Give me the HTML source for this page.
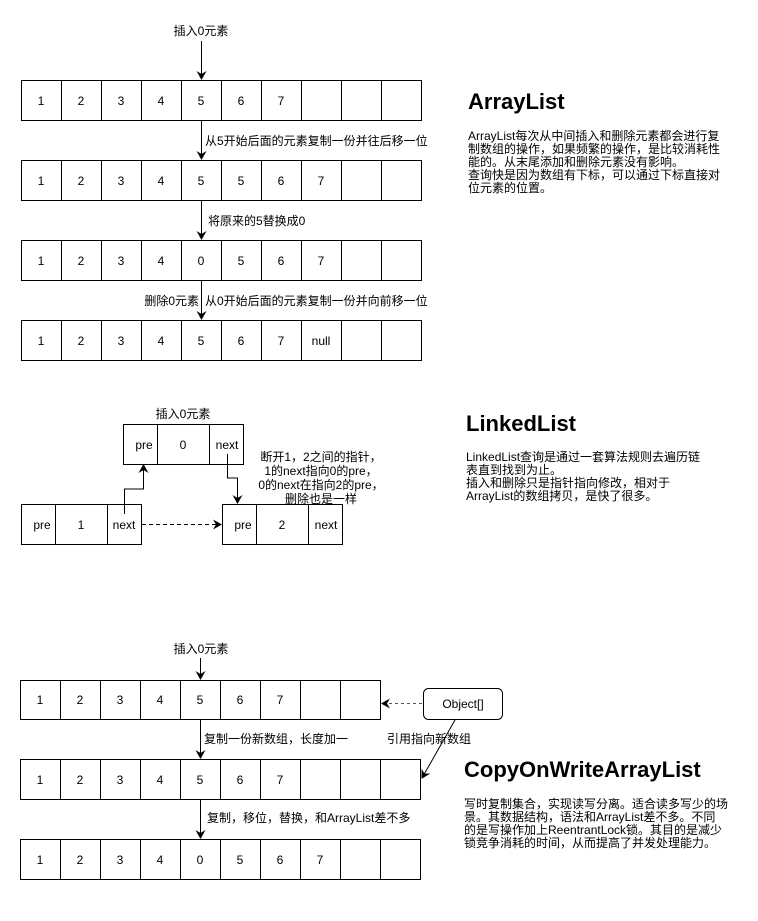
<!DOCTYPE html>
<html><head><meta charset="utf-8"><style>
body{margin:0;background:#fff}
svg{display:block}
text{font-family:"Liberation Sans","Noto Sans CJK SC",sans-serif;font-size:12px;fill:#000}
.c{text-anchor:middle}
.t{font-size:22px;font-weight:bold}
</style></head><body>
<svg width="758" height="921" viewBox="0 0 758 921" xmlns="http://www.w3.org/2000/svg">
<defs><marker id="a" markerWidth="10" markerHeight="10" refX="8" refY="5" orient="auto" markerUnits="userSpaceOnUse"><path d="M0,0 L9,5 L0,10 L3,5 Z" fill="#000"/></marker></defs>
<g stroke="#000" fill="none">
<rect x="21.5" y="80.5" width="400" height="40"/>
<rect x="21.5" y="160.5" width="400" height="40"/>
<rect x="21.5" y="240.5" width="400" height="40"/>
<rect x="21.5" y="320.5" width="400" height="40"/>
<path d="M61.5 80v40M101.5 80v40M141.5 80v40M181.5 80v40M221.5 80v40M261.5 80v40M301.5 80v40M341.5 80v40M381.5 80v40"/>
<path d="M61.5 160v40M101.5 160v40M141.5 160v40M181.5 160v40M221.5 160v40M261.5 160v40M301.5 160v40M341.5 160v40M381.5 160v40"/>
<path d="M61.5 240v40M101.5 240v40M141.5 240v40M181.5 240v40M221.5 240v40M261.5 240v40M301.5 240v40M341.5 240v40M381.5 240v40"/>
<path d="M61.5 320v40M101.5 320v40M141.5 320v40M181.5 320v40M221.5 320v40M261.5 320v40M301.5 320v40M341.5 320v40M381.5 320v40"/>
<path d="M201.5 41V79" marker-end="url(#a)"/>
<path d="M201.5 121V159" marker-end="url(#a)"/>
<path d="M201.5 201V239" marker-end="url(#a)"/>
<path d="M201.5 281V319" marker-end="url(#a)"/>
<rect x="123.5" y="424.5" width="120" height="40"/>
<path d="M157.5 424v40M209.5 424v40"/>
<rect x="21.5" y="504.5" width="120" height="40"/>
<path d="M55.5 504v40M107.5 504v40"/>
<rect x="222.5" y="504.5" width="120" height="40"/>
<path d="M256.5 504v40M308.5 504v40"/>
<path d="M124.5 514V489H143.5V465" marker-end="url(#a)"/>
<path d="M227.5 454V478H237.5V503" marker-end="url(#a)"/>
<path d="M142 524.5H221" stroke-dasharray="4 3" marker-end="url(#a)"/>
<rect x="20.5" y="680.5" width="360" height="39"/>
<path d="M60.5 680v39M100.5 680v39M140.5 680v39M180.5 680v39M220.5 680v39M260.5 680v39M300.5 680v39M340.5 680v39"/>
<rect x="20.5" y="759.5" width="400" height="40"/>
<path d="M60.5 759v40M100.5 759v40M140.5 759v40M180.5 759v40M220.5 759v40M260.5 759v40M300.5 759v40M340.5 759v40M380.5 759v40"/>
<rect x="20.5" y="839.5" width="400" height="40"/>
<path d="M60.5 839v40M100.5 839v40M140.5 839v40M180.5 839v40M220.5 839v40M260.5 839v40M300.5 839v40M340.5 839v40M380.5 839v40"/>
<path d="M200.5 658V679" marker-end="url(#a)"/>
<path d="M200.5 720V758" marker-end="url(#a)"/>
<path d="M200.5 800V838" marker-end="url(#a)"/>
<rect x="423.5" y="688.5" width="79" height="31" rx="5"/>
<path d="M422 703.5H382" stroke-dasharray="3 3" stroke="#555" marker-end="url(#a)"/>
<path d="M455 720L422 778" marker-end="url(#a)"/>
</g>
<g class="c">
<text x="41" y="105">1</text><text x="81" y="105">2</text><text x="121" y="105">3</text><text x="161" y="105">4</text><text x="201" y="105">5</text><text x="241" y="105">6</text><text x="281" y="105">7</text>
<text x="41" y="185">1</text><text x="81" y="185">2</text><text x="121" y="185">3</text><text x="161" y="185">4</text><text x="201" y="185">5</text><text x="241" y="185">5</text><text x="281" y="185">6</text><text x="321" y="185">7</text>
<text x="41" y="265">1</text><text x="81" y="265">2</text><text x="121" y="265">3</text><text x="161" y="265">4</text><text x="201" y="265">0</text><text x="241" y="265">5</text><text x="281" y="265">6</text><text x="321" y="265">7</text>
<text x="41" y="345">1</text><text x="81" y="345">2</text><text x="121" y="345">3</text><text x="161" y="345">4</text><text x="201" y="345">5</text><text x="241" y="345">6</text><text x="281" y="345">7</text><text x="321" y="345">null</text>
<text x="201" y="35">插入0元素</text>
<text x="183" y="418">插入0元素</text>
<text x="144" y="449">pre</text><text x="183" y="449">0</text><text x="227" y="449">next</text>
<text x="42" y="529">pre</text><text x="81" y="529">1</text><text x="124" y="529">next</text>
<text x="243" y="529">pre</text><text x="282" y="529">2</text><text x="326" y="529">next</text>
<text x="321" y="461">断开1，2之间的指针，</text>
<text x="321" y="475">1的next指向0的pre，</text>
<text x="321" y="489">0的next在指向2的pre，</text>
<text x="321" y="503">删除也是一样</text>
<text x="40" y="704">1</text><text x="80" y="704">2</text><text x="120" y="704">3</text><text x="160" y="704">4</text><text x="200" y="704">5</text><text x="240" y="704">6</text><text x="280" y="704">7</text>
<text x="40" y="784">1</text><text x="80" y="784">2</text><text x="120" y="784">3</text><text x="160" y="784">4</text><text x="200" y="784">5</text><text x="240" y="784">6</text><text x="280" y="784">7</text>
<text x="40" y="864">1</text><text x="80" y="864">2</text><text x="120" y="864">3</text><text x="160" y="864">4</text><text x="200" y="864">0</text><text x="240" y="864">5</text><text x="280" y="864">6</text><text x="320" y="864">7</text>
<text x="201" y="653">插入0元素</text>
<text x="463" y="708">Object[]</text>
</g>
<text x="205" y="145">从5开始后面的元素复制一份并往后移一位</text>
<text x="208" y="225">将原来的5替换成0</text>
<text x="199" y="305" text-anchor="end">删除0元素</text>
<text x="205" y="305">从0开始后面的元素复制一份并向前移一位</text>
<text x="204" y="743">复制一份新数组，长度加一</text>
<text x="387" y="743">引用指向新数组</text>
<text x="207" y="822">复制，移位，替换，和ArrayList差不多</text>
<text x="468" y="109" class="t">ArrayList</text>
<text x="468" y="140">ArrayList每次从中间插入和删除元素都会进行复</text>
<text x="468" y="153">制数组的操作，如果频繁的操作，是比较消耗性</text>
<text x="468" y="166">能的。从末尾添加和删除元素没有影响。</text>
<text x="468" y="179">查询快是因为数组有下标，可以通过下标直接对</text>
<text x="468" y="192">位元素的位置。</text>
<text x="466" y="431" class="t">LinkedList</text>
<text x="466" y="461">LinkedList查询是通过一套算法规则去遍历链</text>
<text x="466" y="474">表直到找到为止。</text>
<text x="466" y="487">插入和删除只是指针指向修改，相对于</text>
<text x="466" y="500">ArrayList的数组拷贝，是快了很多。</text>
<text x="464" y="777" class="t">CopyOnWriteArrayList</text>
<text x="464" y="808">写时复制集合，实现读写分离。适合读多写少的场</text>
<text x="464" y="821">景。其数据结构，语法和ArrayList差不多。不同</text>
<text x="464" y="834">的是写操作加上ReentrantLock锁。其目的是减少</text>
<text x="464" y="847">锁竞争消耗的时间，从而提高了并发处理能力。</text>
</svg>
</body></html>
